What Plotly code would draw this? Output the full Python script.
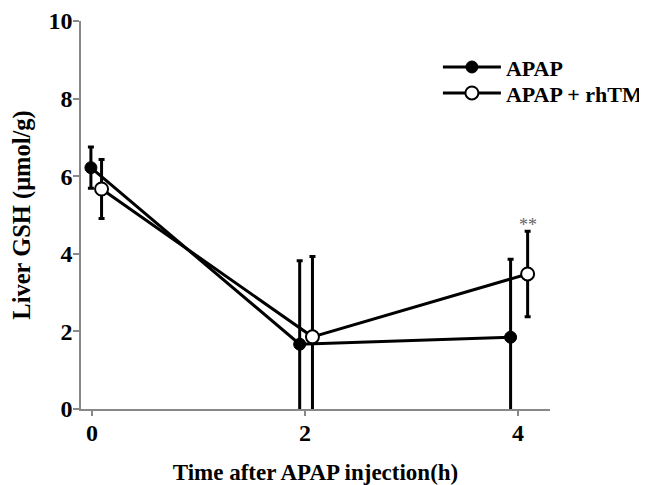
import plotly.graph_objects as go

# Data
time_h = [0, 2, 4]
apap_x = [-0.01, 1.95, 3.93]
rhtm_x = [0.09, 2.07, 4.09]
apap_mean = [6.22, 1.67, 1.85]
apap_err = [0.53, 2.15, 2.01]
rhtm_mean = [5.67, 1.86, 3.48]
rhtm_err = [0.76, 2.07, 1.10]
series_names = ["APAP", "APAP + rhTM"]
y_ticks = [0, 2, 4, 6, 8, 10]
x_ticks = [0, 2, 4]

FONT = "Liberation Serif"
LEG_FONT = dict(family=FONT, size=22, color="black", weight="bold")
TICK_FONT = dict(family=FONT, size=24, color="black", weight="bold")

fig = go.Figure()
fig.add_trace(go.Scatter(
    x=apap_x, y=apap_mean, name=series_names[0], mode="lines+markers", legend="legend",
    line=dict(color="black", width=3),
    marker=dict(symbol="circle", size=12, color="black", line=dict(color="black", width=1)),
    error_y=dict(type="data", array=apap_err, color="black", thickness=3, width=3),
))
fig.add_trace(go.Scatter(
    x=rhtm_x, y=rhtm_mean, name=series_names[1], mode="lines+markers", legend="legend2",
    line=dict(color="black", width=3),
    marker=dict(symbol="circle", size=13, color="white", line=dict(color="black", width=2)),
    error_y=dict(type="data", array=rhtm_err, color="black", thickness=3, width=3),
))

fig.add_annotation(x=rhtm_x[2], y=rhtm_mean[2] + rhtm_err[2], text="**", showarrow=False,
                   yshift=6, font=dict(family=FONT, size=18, color="#666"))

fig.update_layout(
    width=680, height=477,
    margin=dict(l=73, r=138, t=13, b=76, autoexpand=False),
    paper_bgcolor="white", plot_bgcolor="white",
    font=dict(family=FONT, color="black"),
    showlegend=True,
    legend=dict(x=0.761, y=0.881, xanchor="left", yanchor="middle", itemwidth=58,
                font=LEG_FONT, bgcolor="rgba(0,0,0,0)", borderwidth=0),
    legend2=dict(x=0.761, y=0.814, xanchor="left", yanchor="middle", itemwidth=58,
                 font=LEG_FONT, bgcolor="rgba(0,0,0,0)", borderwidth=0),
    xaxis=dict(range=[-0.103, 4.30], tickvals=x_ticks, ticktext=[str(v) for v in x_ticks],
               automargin=False, ticklabelstandoff=-4,
               showline=True, linecolor="#888", linewidth=1.5, ticks="outside", ticklen=5,
               tickcolor="#888", tickwidth=1.5, showgrid=False, zeroline=False,
               tickfont=TICK_FONT,
               title=dict(text="Time after APAP injection(h)", standoff=32,
                          font=dict(family=FONT, size=23, color="black", weight="bold"))),
    yaxis=dict(range=[0, 10], tickvals=y_ticks, showline=True, linecolor="#888", linewidth=1.5,
               automargin=False, ticklabelstandoff=-4,
               ticks="outside", ticklen=6, tickcolor="#888", tickwidth=1.5,
               showgrid=False, zeroline=False,
               tickfont=TICK_FONT,
               title=dict(text="Liver GSH (μmol/g)", standoff=12,
                          font=dict(family=FONT, size=24.5, color="black", weight="bold"))),
)

fig.write_html("out.html")
